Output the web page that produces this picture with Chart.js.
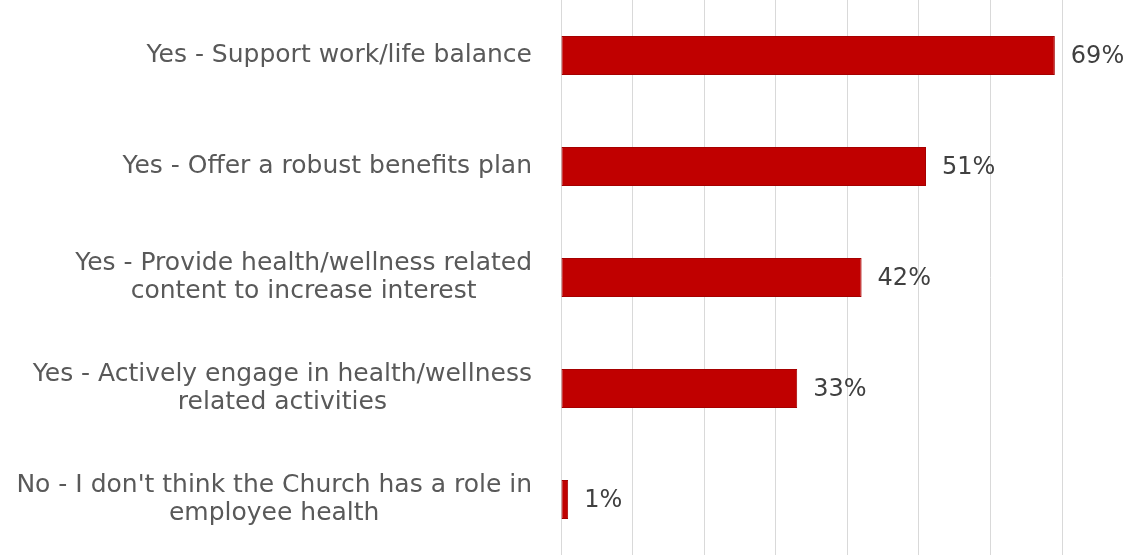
<!DOCTYPE html>
<html>
<head>
<meta charset="utf-8">
<title>Employee health</title>
<script src="https://cdn.jsdelivr.net/npm/chart.js"></script>
<style>
    html, body { margin: 0; padding: 0; background: #ffffff; }
    #wrap { width: 1129px; height: 557px; position: relative; }
</style>
</head>
<body>
<div id="wrap"><canvas id="chart"></canvas></div>
<script>
// Antworten (mehrzeilige Beschriftungen als Arrays)
const kategorien = [
    ["Yes - Support work/life balance"],
    ["Yes - Offer a robust benefits plan"],
    ["Yes - Provide health/wellness related", "content to increase interest"],
    ["Yes - Actively engage in health/wellness", "related activities"],
    ["No - I don't think the Church has a role in", "employee health"]
];
const anteile = [69, 51, 42, 33, 1];
const achsenTicks = [0, 10, 20, 30, 40, 50, 60, 70];

const schrift = "'DejaVu Sans', Verdana, sans-serif";

// Beschriftungen links: Block rechtsbündig, Zeilen darin zentriert
const kategorieLabels = {
    id: 'kategorieLabels',
    afterDraw(chart) {
        const ctx = chart.ctx;
        const y = chart.scales.y;
        const rechts = chart.chartArea.left - 29;
        const zeilenHoehe = 28;
        ctx.save();
        ctx.font = "25px " + schrift;
        ctx.fillStyle = "#595959";
        ctx.textAlign = "center";
        ctx.textBaseline = "middle";
        kategorien.forEach((zeilen, i) => {
            const breite = Math.max(...zeilen.map(z => ctx.measureText(z).width));
            const mitteX = rechts - breite / 2;
            const mitteY = y.getPixelForValue(i);
            const start = mitteY - (zeilen.length - 1) * zeilenHoehe / 2;
            zeilen.forEach((z, j) => ctx.fillText(z, mitteX, start + j * zeilenHoehe));
        });
        ctx.restore();
    }
};

// Prozentwerte hinter den Balken
const wertLabels = {
    id: 'wertLabels',
    afterDatasetsDraw(chart) {
        const ctx = chart.ctx;
        const meta = chart.getDatasetMeta(0);
        ctx.save();
        ctx.font = "24px " + schrift;
        ctx.fillStyle = "#404040";
        ctx.textAlign = "left";
        ctx.textBaseline = "middle";
        meta.data.forEach((bar, i) => {
            ctx.fillText(anteile[i] + "%", bar.x + 16, bar.y + 1);
        });
        ctx.restore();
    }
};

new Chart(document.getElementById('chart'), {
    type: 'bar',
    data: {
        labels: kategorien.map(z => z.join(' ')),
        datasets: [{
            data: anteile,
            backgroundColor: '#C00000',
            borderColor: '#A50000',
            borderWidth: 1,
            borderSkipped: false,
            categoryPercentage: 1,
            barPercentage: 0.35
        }]
    },
    options: {
        indexAxis: 'y',
        responsive: true,
        maintainAspectRatio: false,
        animation: false,
        layout: { padding: { top: 0, right: 67, bottom: 2, left: 0 } },
        plugins: {
            legend: { display: false },
            tooltip: { enabled: false }
        },
        scales: {
            x: {
                min: achsenTicks[0],
                max: achsenTicks[achsenTicks.length - 1],
                afterBuildTicks: s => { s.ticks = achsenTicks.map(v => ({ value: v })); },
                ticks: { display: false },
                grid: { color: '#D9D9D9', lineWidth: 1, drawTicks: false },
                border: { display: false }
            },
            y: {
                ticks: { display: false },
                grid: { display: false, drawTicks: false },
                border: { display: false },
                afterFit: s => { s.width = 561; }
            }
        }
    },
    plugins: [kategorieLabels, wertLabels]
});
</script>
</body>
</html>
